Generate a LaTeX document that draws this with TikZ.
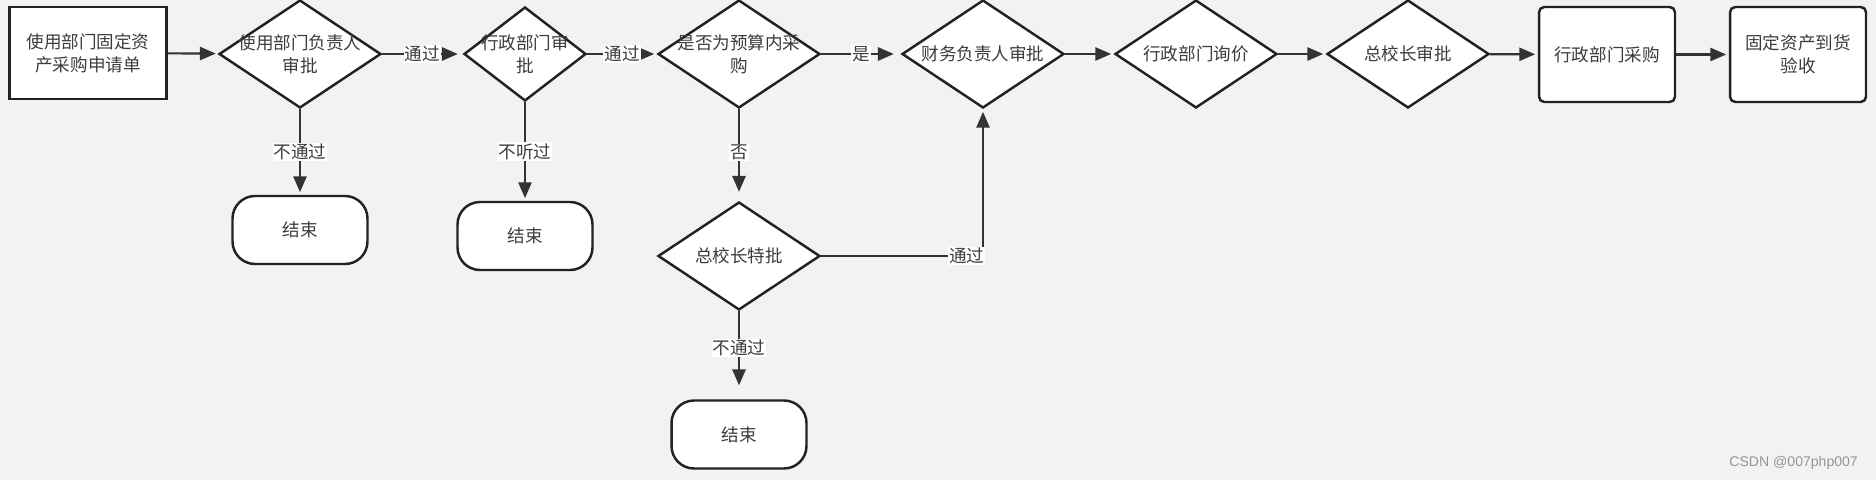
\documentclass[tikz,border=0pt]{standalone}
\usepackage{fontspec}
\setmainfont{Noto Sans CJK SC}
\newfontfamily\markfont{Liberation Sans}
\usepackage{tikz}
\usetikzlibrary{arrows.meta, shapes.geometric}
\usepackage{xcolor}
\definecolor{flowbg}{RGB}{242,242,242}
\definecolor{flowline}{RGB}{51,51,51}
\definecolor{flowedge}{RGB}{34,34,34}
\definecolor{flowtext}{RGB}{60,60,60}
\definecolor{flowmark}{RGB}{150,150,150}

\begin{document}
\begin{tikzpicture}[x=0.02cm, y=-0.02cm,
  txt/.style={text=flowtext, font=\fontsize{10}{13}\selectfont, align=center},
  stepbox/.style={draw=flowedge, fill=white, line width=1.4pt, minimum width=2.72cm,
                  minimum height=1.9cm, inner sep=0pt, txt},
  decide/.style={diamond, draw=flowedge, fill=white, line width=1.4pt, minimum width=3.24cm,
                 minimum height=2.16cm, inner sep=0pt},
  endbox/.style={stepbox, rounded corners=0.45cm, minimum width=2.7cm, minimum height=1.36cm},
  flow/.style={draw=flowline, line width=1.2pt, -{Triangle[length=9pt, width=7.5pt]}, shorten >=1.5pt},
  edgetag/.style={fill=white, inner sep=0.6pt, txt}]
  % Canvas
  \fill[flowbg] (0,0) rectangle (1876,480);
  \useasboundingbox (0,0) rectangle (1876,480);

  % Main line of approval
  \node[stepbox, minimum width=3.14cm, minimum height=1.84cm] (apply) at (88,53) {使用部门固定资\\产采购申请单};
  \node[decide, label={[txt]center:使用部门负责人\\审批}] (dept) at (300,54) {};
  \node[decide, minimum width=2.44cm, minimum height=1.88cm, label={[txt]center:行政部门审\\批}] (admin) at (525,54) {};
  \node[decide, label={[txt]center:是否为预算内采\\购}] (budget) at (739,54) {};
  \node[decide, label={[txt]center:财务负责人审批}] (finance) at (983,54) {};
  \node[decide, label={[txt]center:行政部门询价}] (quote) at (1196,54) {};
  \node[decide, label={[txt]center:总校长审批}] (head) at (1408,54) {};
  \node[stepbox, rounded corners=3pt] (buy) at (1607,54.5) {行政部门采购};
  \node[stepbox, rounded corners=3pt] (accept) at (1798,54.5) {固定资产到货\\验收};

  % Side branches
  \node[decide, label={[txt]center:总校长特批}] (special) at (739,256) {};
  \node[endbox] (stopA) at (300,230) {结束};
  \node[endbox] (stopB) at (525,236) {结束};
  \node[endbox] (stopC) at (739,434.5) {结束};

  % Connectors
  \draw[flow] (apply) -- (dept);
  \draw[flow, shorten >=0.1cm] (dept) -- node[edgetag] {通过} (admin);
  \draw[flow] (admin) -- node[edgetag] {通过} (budget);
  \draw[flow, shorten >=0.14cm] (budget) -- node[edgetag] {是} (finance);
  \foreach \a/\b in {finance/quote, quote/head, head/buy, buy/accept} {
    \draw[flow] (\a) -- (\b);
  }
  \draw[flow] (dept.south) -- node[edgetag] {不通过} (stopA.north);
  \draw[flow] (admin.south) -- node[edgetag] {不听过} (stopB.north);
  \draw[flow, shorten >=0.18cm] (budget.south) -- node[edgetag, pos=0.47] {否} (special.north);
  \draw[flow, shorten >=0.28cm] (special.south) -- node[edgetag, pos=0.42] {不通过} (stopC.north);
  \draw[flow] (special.east) -| node[edgetag, pos=0.45] {通过} (finance.south);

  % Watermark
  \node[font=\markfont\fontsize{8}{10}\selectfont, text=flowmark, anchor=east] (mark) at (1864,463) {CSDN @007php007};
\end{tikzpicture}
\end{document}
